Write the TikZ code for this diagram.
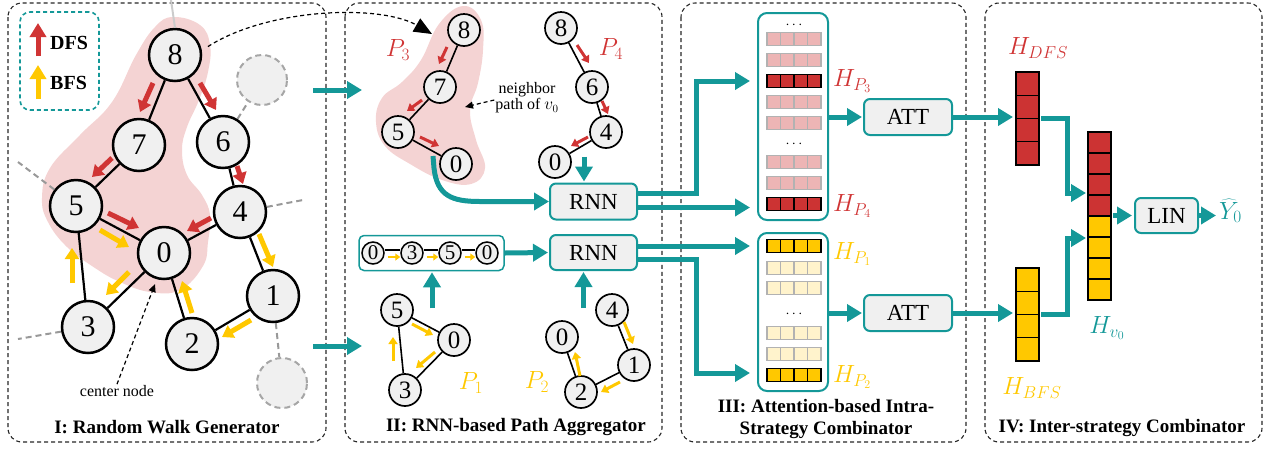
\documentclass[tikz,border=0pt]{standalone}
\usepackage{fontspec}
\setmainfont{Liberation Serif}
\usetikzlibrary{arrows.meta,calc}

\definecolor{tealc}{RGB}{20,152,152}
\definecolor{dfsred}{RGB}{208,52,52}
\definecolor{cellred}{RGB}{204,51,51}
\definecolor{lightred}{RGB}{237,181,181}
\definecolor{bfsyel}{RGB}{255,200,0}
\definecolor{lightyel}{RGB}{255,243,204}
\definecolor{nodegray}{RGB}{240,240,240}
\definecolor{blobpink}{RGB}{244,211,211}

\tikzset{
  panel/.style={draw=black!85, dash pattern=on 4pt off 3pt, line width=1.1pt, rounded corners=14pt},
  bignode/.style={circle, draw=black, line width=2.5pt, fill=nodegray, minimum size=52pt, inner sep=0pt, font=\fontsize{30}{30}\selectfont},
  smallnode/.style={circle, draw=black, line width=1.7pt, fill=nodegray, minimum size=32pt, inner sep=0pt, font=\fontsize{25}{25}\selectfont},
  seqnode/.style={circle, draw=black, line width=1.5pt, fill=nodegray, minimum size=22pt, inner sep=0pt, font=\fontsize{21}{21}\selectfont},
  ghost/.style={circle, draw=black!35, dash pattern=on 6pt off 4pt, line width=2pt, fill=nodegray, minimum size=50pt},
  gedge/.style={line width=2.2pt, black},
  sedge/.style={line width=1.6pt, black},
  stub/.style={line width=2pt, black!40, dash pattern=on 6pt off 4pt},
  dfs/.style={dfsred, line width=5pt, -{Triangle[length=11pt,width=14pt]}},
  bfs/.style={bfsyel, line width=5pt, -{Triangle[length=11pt,width=14pt]}},
  dfss/.style={dfsred, line width=3pt, -{Triangle[length=7pt,width=9pt]}},
  bfss/.style={bfsyel, line width=3pt, -{Triangle[length=7pt,width=9pt]}},
  bfst/.style={bfsyel, line width=2.5pt, -{Triangle[length=5pt,width=7pt]}},
  tarrow/.style={tealc, line width=5pt, -{Triangle[length=15pt,width=17pt]}},
  procbox/.style={draw=tealc, line width=2pt, fill=nodegray, rounded corners=6pt, inner sep=0pt, font=\fontsize{23}{23}\selectfont},
  colbox/.style={draw=tealc, line width=2pt, fill=white, rounded corners=9pt, inner sep=0pt},
  title/.style={font=\bfseries\fontsize{19}{22}\selectfont, align=center},
  mlabel/.style={font=\fontsize{26}{30}\selectfont, inner sep=0pt},
  annot/.style={font=\fontsize{16}{18}\selectfont, align=center, inner sep=1pt},
  dasharrow/.style={black, line width=1.2pt, dash pattern=on 4pt off 3pt, -{Triangle[length=8pt,width=7pt]}},
  placeholder/.style={inner sep=0pt, outer sep=0pt}
}

\newcommand{\vecrow}[4]{%
  \foreach \i in {0,...,3} {\draw[fill=#3, draw=#4, line width=1.1pt] ({#1+\i*13.5},{#2-6.75}) rectangle ++(13.5,13.5);}%
}
\newcommand{\veccol}[5]{% x-left, y-top, cell height, fill, count
  \foreach \i in {1,...,#5} {\draw[fill=#4, draw=black, line width=1.2pt] (#1,{#2+(\i-1)*#3}) rectangle ++(23,#3);}%
}

\begin{document}
\begin{tikzpicture}[x=1pt,y=-1pt]
\useasboundingbox (0,0) rectangle (1271,451);

% ---------------- panels ----------------
\draw[panel] (8,3) rectangle (326,442);
\draw[panel] (345,3) rectangle (662,442);
\draw[panel] (681,3) rectangle (966,442);
\draw[panel] (985,3) rectangle (1262,442);

\node[title] (t1) at (167,427) {I: Random Walk Generator};
\node[title] (t2) at (516,427) {II: RNN-based Path Aggregator};
\node[title] (t3) at (826,419) {III: Attention-based Intra-\\Strategy Combinator};
\node[title] (t4) at (1122,428) {IV: Inter-strategy Combinator};

% ---------------- panel I ----------------
\fill[blobpink] plot[smooth cycle, tension=0.7] coordinates {
 (173,17) (200,25) (210,45) (208,72) (199,100) (187,127) (182,150) (187,175)
 (202,195) (210,215) (208,242) (203,266) (180,290) (150,292) (120,282) (95,268)
 (67,247) (48,222) (42,198) (50,168) (80,135) (112,102) (136,55) (155,27)};

% legend
\node[draw=tealc, dash pattern=on 4pt off 3pt, line width=1.6pt, rounded corners=10pt,
      minimum width=79pt, minimum height=98pt, inner sep=0pt] (legend) at (59.5,61) {};
\coordinate (ld0) at (38,56);
\coordinate (ld1) at (38,23);
\coordinate (lb0) at (38,99);
\coordinate (lb1) at (38,65);
\draw[dfsred, line width=5pt, -{Triangle[length=14pt,width=16pt]}] (ld0) -- (ld1);
\draw[bfsyel, line width=5pt, -{Triangle[length=14pt,width=16pt]}] (lb0) -- (lb1);
\node[font=\bfseries\fontsize{20}{20}\selectfont, anchor=west, inner sep=0pt] (ldfs) at (50,43) {DFS};
\node[font=\bfseries\fontsize{20}{20}\selectfont, anchor=west, inner sep=0pt] (lbfs) at (50,83) {BFS};

% ghost nodes
\node[ghost] (g1) at (262,80) {};
\node[ghost] (g2) at (282,383) {};

% graph nodes
\node[bignode] (n8) at (175,55) {8};
\node[bignode] (n7) at (139,145) {7};
\node[bignode] (n6) at (223,142) {6};
\node[bignode] (n5) at (76,206) {5};
\node[bignode] (n4) at (240,212) {4};
\node[bignode] (n0) at (164,253) {0};
\node[bignode] (n1) at (273,296) {1};
\node[bignode] (n3) at (88,327) {3};
\node[bignode] (n2) at (192,344) {2};

% stubs
\coordinate (s8) at (171,0);
\coordinate (s5) at (18,162);
\coordinate (s4) at (303,200);
\coordinate (s3) at (18,339);
\draw[line width=2pt, black!20] (n8.north) -- (s8);
\draw[stub] (n6) -- (g1);
\draw[stub] (n5) -- (s5);
\draw[stub] (n4) -- (s4);
\draw[stub] (n3) -- (s3);
\draw[stub] (n1) -- (g2);

% edges
\draw[gedge] (n8) -- (n7);
\draw[gedge] (n8) -- (n6);
\draw[gedge] (n7) -- (n5);
\draw[gedge] (n6) -- (n4);
\draw[gedge] (n5) -- (n0);
\draw[gedge] (n4) -- (n0);
\draw[gedge] (n5) -- (n3);
\draw[gedge] (n0) -- (n3);
\draw[gedge] (n0) -- (n2);
\draw[gedge] (n4) -- (n1);
\draw[gedge] (n1) -- (n2);

% DFS / BFS arrows
\draw[dfs] (153,83) -- (140,112);
\draw[dfs] (200,83) -- (216,110);
\draw[dfs] (112,158) -- (92,177);
\draw[dfs] (237,166) -- (243,184);
\draw[dfs] (108,213) -- (139,228);
\draw[dfs] (211,218) -- (187,231);
\draw[bfs] (100,230) -- (129,247);
\draw[bfs] (72,283) -- (72,248);
\draw[bfs] (129,272) -- (106,295);
\draw[bfs] (192,313) -- (182,281);
\draw[bfs] (259,234) -- (273,267);
\draw[bfs] (251,320) -- (222,337);

% center node annotation
\node[annot] (cn) at (117,391) {center node};
\coordinate (cnend) at (155,284);
\draw[dasharrow] (cn.north) -- (cnend);

% link to panel II
\coordinate (p3tip) at (432,34);
\draw[black, line width=1.2pt, dash pattern=on 4pt off 3pt, -{Triangle[length=18pt,width=15pt]}]
  ([xshift=7pt]n8.18) .. controls (268,8) and (380,4) .. (p3tip);

\coordinate (ta0) at (313,90);
\coordinate (ta1) at (362,90);
\coordinate (tb0) at (313,346);
\coordinate (tb1) at (362,346);
\draw[tarrow] (ta0) -- (ta1);
\draw[tarrow] (tb0) -- (tb1);

% ---------------- panel II ----------------
\fill[blobpink] plot[smooth cycle, tension=0.7] coordinates {
 (463,6) (481,20) (483,50) (478,83) (470,110) (476,140) (485,168) (471,184)
 (442,180) (410,164) (385,146) (376,122) (382,98) (402,82) (421,60) (439,24)};

\node[smallnode] (a8) at (464,30) {8};
\node[smallnode] (a7) at (440,87) {7};
\node[smallnode] (a5) at (398,132) {5};
\node[smallnode] (a0) at (456,164) {0};
\draw[sedge] (a8) -- (a7);
\draw[sedge] (a7) -- (a5);
\draw[sedge] (a5) -- (a0);
\draw[dfss] (447,47) -- (439,64);
\draw[dfss] (422,100) -- (407,111);
\draw[dfss] (420,137) -- (439,146);

\node[smallnode] (b8) at (561,28) {8};
\node[smallnode] (b6) at (592,87) {6};
\node[smallnode] (b4) at (606,132) {4};
\node[smallnode] (b0) at (555,162) {0};
\draw[sedge] (b8) -- (b6);
\draw[sedge] (b6) -- (b4);
\draw[sedge] (b4) -- (b0);
\draw[dfss] (577,45) -- (589,63);
\draw[dfss] (602,101) -- (608,114);
\draw[dfss] (588,137) -- (571,146);

\node[mlabel, text=dfsred] (lp3) at (398,50) {$P_3$};
\node[mlabel, text=dfsred] (lp4) at (611,49) {$P_4$};

\node[annot] (nb) at (527,98) {neighbor\\[-2pt]path of $v_0$};
\coordinate (nbend) at (465,107);
\draw[dasharrow] ([yshift=-2pt]nb.west) -- (nbend);

\node[procbox, minimum width=87pt, minimum height=36pt] (rnn1) at (593.5,201.5) {RNN};
\node[procbox, minimum width=87pt, minimum height=35pt] (rnn2) at (593.5,252.5) {RNN};

\coordinate (c0) at (433,156);
\draw[tarrow] (c0) -- (434,168) .. controls (437,196) and (452,201.5) .. (480,201.5) -- (rnn1.west);
\draw[tarrow] ($(rnn1.north)+(-9.5,-26)$) -- ($(rnn1.north)+(-9.5,-1)$);

% sequence box
\node[draw=tealc, line width=1.5pt, fill=white, rounded corners=5pt, minimum width=145pt, minimum height=35pt, inner sep=0pt] (seq) at (431.5,253) {};
\node[seqnode] (q1) at (373,253) {0};
\node[seqnode] (q2) at (412,253) {3};
\node[seqnode] (q3) at (450,253) {5};
\node[seqnode] (q4) at (487,253) {0};
\draw[sedge] ([yshift=3pt]q1.east) -- ([yshift=3pt]q2.west);
\draw[sedge] ([yshift=3pt]q2.east) -- ([yshift=3pt]q3.west);
\draw[sedge] ([yshift=3pt]q3.east) -- ([yshift=3pt]q4.west);
\draw[bfst, shorten <=3pt] ([yshift=-4pt]q1.east) -- ([yshift=-4pt]q2.west);
\draw[bfst, shorten <=3pt] ([yshift=-4pt]q2.east) -- ([yshift=-4pt]q3.west);
\draw[bfst, shorten <=3pt] ([yshift=-4pt]q3.east) -- ([yshift=-4pt]q4.west);

\draw[tarrow, shorten >=1pt] (seq.east) -- (rnn2.west);
\draw[tarrow, shorten >=1pt] ($(seq.south)+(0.5,37)$) -- ($(seq.south)+(0.5,0)$);
\draw[tarrow, shorten >=1pt] ($(rnn2.south)+(-10,37)$) -- ($(rnn2.south)+(-10,0)$);

% P1
\node[smallnode] (c5) at (397,310) {5};
\node[smallnode] (c0n) at (454,340) {0};
\node[smallnode] (c3) at (405,390) {3};
\draw[sedge] (c5) -- (c0n);
\draw[sedge] (c0n) -- (c3);
\draw[sedge] (c3) -- (c5);
\draw[bfss] (412,324) -- (433,335);
\draw[bfss] (435,352) -- (416,368);
\draw[bfss] (393,361) -- (393,337);
\node[mlabel, text=bfsyel] (lp1) at (471,383) {$P_1$};

% P2
\node[smallnode] (d4) at (612,310) {4};
\node[smallnode] (d1) at (634,365) {1};
\node[smallnode] (d2) at (581,392) {2};
\node[smallnode] (d0) at (562,337) {0};
\draw[sedge] (d4) -- (d1);
\draw[sedge] (d1) -- (d2);
\draw[sedge] (d2) -- (d0);
\draw[bfss] (624,322) -- (633,344);
\draw[bfss] (620,382) -- (601,392);
\draw[bfss] (580,376) -- (575,352);
\node[mlabel, text=bfsyel] (lp2) at (537,382) {$P_2$};

% ---------------- panel III ----------------
\node[colbox, minimum width=70pt, minimum height=207pt] (col1) at (793,116.5) {};
\node[colbox, minimum width=70pt, minimum height=158pt] (col2) at (793,312) {};

\vecrow{767}{39}{lightred}{black!30}
\vecrow{767}{60}{lightred}{black!30}
\vecrow{767}{81}{cellred}{black}
\vecrow{767}{102}{lightred}{black!30}
\vecrow{767}{123}{lightred}{black!30}
\vecrow{767}{162}{lightred}{black!30}
\vecrow{767}{183}{lightred}{black!30}
\vecrow{767}{204}{cellred}{black}
\node[font=\fontsize{14}{14}\selectfont, inner sep=0pt] (dt1) at (794,25) {$\cdots$};
\node[font=\fontsize{14}{14}\selectfont, inner sep=0pt] (dt2) at (794,144) {$\cdots$};

\vecrow{767}{246}{bfsyel}{black}
\vecrow{767}{268}{lightyel}{black!30}
\vecrow{767}{288}{lightyel}{black!30}
\vecrow{767}{333}{lightyel}{black!30}
\vecrow{767}{354}{lightyel}{black!30}
\vecrow{767}{375}{bfsyel}{black}
\node[font=\fontsize{14}{14}\selectfont, inner sep=0pt] (dt3) at (794,314) {$\cdots$};

\node[mlabel, text=dfsred, anchor=west] (hp3) at (833,81) {$H_{P_3}$};
\node[mlabel, text=dfsred, anchor=west] (hp4) at (833,206) {$H_{P_4}$};
\node[mlabel, text=bfsyel, anchor=west] (hp1) at (833,254) {$H_{P_1}$};
\node[mlabel, text=bfsyel, anchor=west] (hp2) at (833,377) {$H_{P_2}$};

\coordinate (inP3) at (750,81);
\coordinate (inP4) at (750,207.5);
\coordinate (inP1) at (750,246);
\coordinate (inP2) at (750,373);
\draw[tarrow] ($(rnn1.east)+(0,-8)$) -- ++(58,0) |- (inP3);
\draw[tarrow] ($(rnn1.east)+(0,6)$) -- (inP4);
\draw[tarrow] ($(rnn2.east)+(0,-6.5)$) -- (inP1);
\draw[tarrow] ($(rnn2.east)+(0,6.5)$) -- ++(58,0) |- (inP2);

\node[procbox, minimum width=88pt, minimum height=36pt] (att1) at (908,117) {ATT};
\node[procbox, minimum width=88pt, minimum height=36pt] (att2) at (908,313) {ATT};
\draw[tarrow, shorten >=1pt] (col1.east |- att1.west) -- (att1.west);
\draw[tarrow, shorten >=1pt] (col2.east |- att2.west) -- (att2.west);

% ---------------- panel IV ----------------
\veccol{1016}{72}{23.25}{cellred}{4}
\veccol{1016}{268}{23.25}{bfsyel}{4}
\veccol{1088}{132}{21}{cellred}{4}
\veccol{1088}{216}{21}{bfsyel}{4}
\node[placeholder, minimum width=23pt, minimum height=93pt] (hd) at (1027.5,118.5) {};
\node[placeholder, minimum width=23pt, minimum height=93pt] (hb) at (1027.5,314.5) {};
\node[placeholder, minimum width=23pt, minimum height=168pt] (hv) at (1099.5,216) {};

\draw[tarrow, shorten >=3pt] (att1.east) -- (att1.east -| hd.west);
\draw[tarrow, shorten >=3pt] (att2.east) -- (att2.east -| hb.west);
\draw[tarrow] ([xshift=2pt]hd.east) -- ++(26,0) |- ($(hv.west)+(-2,-23)$);
\draw[tarrow] ([xshift=2pt]hb.east) -- ++(26,0) |- ($(hv.west)+(-2,22)$);

\node[procbox, minimum width=63pt, minimum height=35pt] (lin) at (1166.5,215.5) {LIN};
\draw[tarrow, shorten >=2pt] ([xshift=2pt]hv.east |- lin.west) -- (lin.west);
\coordinate (yout) at (1216,215.5);
\draw[tarrow] (lin.east) -- (yout);

\node[mlabel, text=dfsred] (hdfs) at (1038,48) {$H_{DFS}$};
\node[mlabel, text=bfsyel] (hbfs) at (1032,388) {$H_{BFS}$};
\node[mlabel, text=tealc] (hv0) at (1107,328) {$H_{v_0}$};
\node[mlabel, text=tealc, anchor=west] (yhat) at (1219,211) {$\widehat{Y}_0$};

\end{tikzpicture}
\end{document}
